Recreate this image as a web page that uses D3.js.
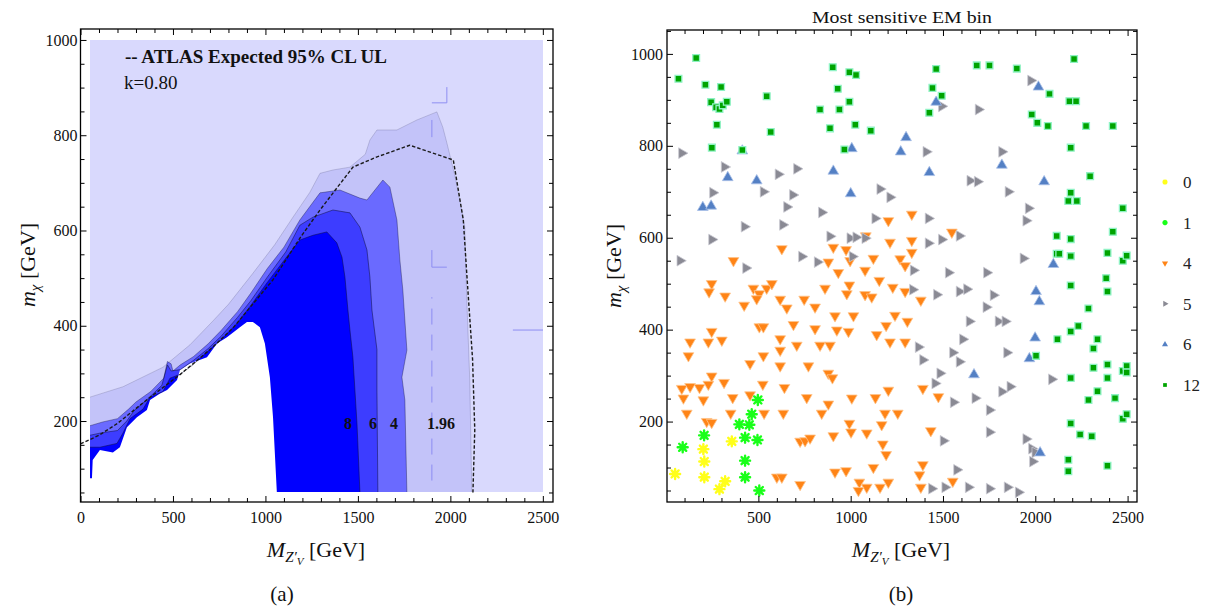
<!DOCTYPE html>
<html>
<head>
<meta charset="utf-8">
<script src="https://cdn.jsdelivr.net/npm/d3@7"></script>
<style>
  body { margin: 0; background: #fff; }
  text { font-family: "Liberation Serif", "DejaVu Serif", serif; }
</style>
</head>
<body>
<svg width="1210" height="608"></svg>
<script>
const svg = d3.select('svg');

// ---------- panel (a): contour regions, [M_Z' GeV, m_chi GeV] ----------
const gridX = [50, 2500];
const gridY = [50, 1000];

// outer edge of each significance region, from the left edge down to the bottom edge
const contour196 = [[50,250],[230,272],[446,313],[592,360],[716,410],[800,445],[932,510],[1050,570],[1149,628],
  [1240,680],[1295,720],[1365,727],[1457,733],[1540,760],[1565,790],[1603,811],[1711,811],[1819,832],[1927,849],
  [1959,817],[1981,784],[2024,716],[2051,664],[2078,607],[2089,454],[2105,286],[2116,50]];
const contour4 = [[50,190],[120,198],[200,205],[260,225],[300,240],[380,262],[450,290],[470,325],[490,320],[500,305],
  [540,318],[610,335],[690,362],[760,390],[850,430],[920,468],[1010,520],[1100,565],[1186,622],[1295,679],[1403,685],
  [1511,668],[1549,664],[1635,706],[1673,691],[1711,622],[1727,538],[1743,475],[1765,349],[1738,292],[1754,244],[1765,50]];
const contour6 = [[50,170],[110,175],[200,180],[250,200],[290,222],[360,245],[440,275],[470,318],[490,305],[540,308],
  [610,327],[690,352],[760,378],[850,418],[920,452],[1010,502],[1110,555],[1186,611],[1257,628],[1365,643],[1457,637],
  [1511,607],[1549,559],[1565,502],[1576,433],[1603,350],[1603,265],[1608,50]];
const contour8 = [[50,145],[105,145],[197,153],[230,175],[268,205],[338,225],[376,250],[446,262],[484,290],[538,298],
  [608,318],[684,345],[754,368],[846,405],[916,440],[1008,490],[1116,545],[1186,580],[1257,590],[1332,597],[1386,574],
  [1414,544],[1430,502],[1446,433],[1457,391],[1473,334],[1495,195],[1511,50]];
// region without a result (white)
const noResult = [[50,35],[50,80],[62,80],[66,118],[105,139],[175,134],[213,145],[251,187],[305,208],[359,223],[376,244],
  [430,258],[468,265],[522,286],[538,307],[592,321],[684,334],[738,363],[792,376],[862,397],[900,408],[932,408],
  [970,397],[997,363],[1024,292],[1041,208],[1062,48],[1062,35]];
// ATLAS expected 95% CL upper limit
const atlasExpected = [[0,152],[100,170],[200,195],[360,245],[540,298],[700,350],[824,395],[920,440],[1040,496],
  [1190,586],[1295,643],[1473,733],[1600,754],[1780,779],[2016,748],[2070,622],[2090,502],[2120,330],[2132,181],[2122,50]];
// stray mesh strokes of the original rendering
const meshStrokes = [[[1981,868],[1981,901]],[[1900,868],[1981,868]],[[1900,796],[1900,832]],
  [[1900,523],[1900,559]],[[1900,523],[1981,523]],[[2338,391],[2510,391]]];
const meshDashed = [[1900,75],[1900,460]];

const regionColors = ['#c3c3f9', '#6a6aff', '#3d3dff', '#0000ff'];
const contourLabels = ['8', '6', '4', '1.96'];
const contourLabelX = [1446, 1581, 1695, 1949];
const contourLabelY = 195;

// ---------- panel (b): most sensitive EM bin ----------
const bins = ['0', '1', '4', '5', '6', '12'];
const bin0 = [[49,86],[202,140],[207,113],[207,79],[289,53],[320,70],[356,157]];
const bin1 = [[90,144],[206,170],[397,194],[451,193],[464,216],[497,247],[428,165],[495,160],[428,115],[428,79],[505,50]];
const bin4 = [[247,500],[233,482],[320,473],[423,453],[473,490],[505,478],[545,490],[573,500],[491,467],[618,466],
  [654,447],[748,466],[807,449],[861,490],[979,478],[993,497],[1078,476],[1114,471],[1155,507],[1228,492],[1295,483],
  [690,411],[807,402],[915,430],[1015,430],[925,399],[988,396],[1141,389],[1192,409],[1240,431],[1307,418],[505,406],
  [527,406],[618,380],[708,366],[834,366],[888,366],[1213,373],[1295,373],[247,396],[302,377],[130,373],[229,373],
  [121,343],[618,355],[455,326],[527,343],[618,321],[771,321],[879,305],[901,295],[247,299],[229,281],[181,274],
  [85,272],[130,276],[314,285],[94,251],[202,247],[361,252],[455,258],[524,281],[641,274],[762,252],[879,238],
  [1006,251],[1134,252],[1204,268],[112,218],[220,200],[247,198],[350,218],[531,218],[635,218],[843,218],[993,196],
  [1186,218],[1255,218],[906,169],[1002,177],[1087,175],[1168,193],[726,157],[753,158],[780,164],[1174,151],[1192,128],
  [600,79],[627,79],[726,63],[915,90],[975,93],[1047,68],[1087,57],[1123,100],[1159,57],[1204,68],[1042,50],
  [1204,637],[1331,651],[627,576],[365,550],[906,579],[975,574],[1082,604],[1213,590],[1331,594],[879,547],[997,550],
  [1123,555],[1268,554],[1331,568],[1295,539],[933,524],[1078,529],[1548,612],
  [1380,464],[1391,272],[1475,254],[1434,180],[1391,106],[1373,84],[1380,57],[1553,70]];
const bin5 = [[85,784],[316,754],[253,698],[424,624],[248,596],[76,550],[432,534],[527,700],[608,738],[708,750],
  [686,693],[654,667],[632,628],[843,655],[735,559],[820,547],[888,603],[997,599],[1029,601],[1078,599],[1009,559],
  [1159,706],[1213,688],[1132,642],[1976,942],[1493,886],[1692,879],[1409,787],[1819,787],[1647,724],[1687,722],
  [1854,700],[1963,664],[1950,637],[1421,642],[1421,588],[1493,596],[1589,604],[1340,529],[1530,524],[1737,524],
  [1935,555],[1336,487],[1466,476],[1589,483],[1629,488],[1773,475],[1734,449],[1643,418],[1800,418],[1837,418],
  [1607,379],[1367,362],[1553,350],[1846,350],[1391,334],[1589,330],[1484,305],[1457,283],[1819,265],[1864,276],
  [1557,242],[1674,251],[1752,225],[1752,177],[1502,158],[1950,162],[1981,141],[1999,133],[1986,113],[1575,95],
  [1439,54],[1511,57],[1638,57],[1752,54],[1849,57],[1909,46],[2089,292]];
const bin6 = [[334,731],[491,724],[199,666],[244,669],[906,745],[1000,696],[413,789],[1006,794],[1300,818],[1271,787],
  [2017,928],[1463,895],[1426,742],[1819,758],[2048,722],[2098,542],[2004,483],[2022,461],[1999,382],[1968,337],
  [1668,302],[2026,132]];
const bin12 = [[67,946],[163,991],[213,933],[298,928],[244,895],[271,884],[289,880],[307,888],[329,896],[275,846],
  [248,796],[413,791],[545,908],[567,830],[903,971],[993,960],[1029,954],[930,924],[834,879],[939,879],[993,896],
  [888,838],[1025,846],[1109,833],[966,792],[1463,967],[1683,975],[1752,975],[1900,968],[2210,989],[1443,926],
  [1493,909],[1426,872],[2077,913],[2185,897],[2221,897],[1981,868],[2011,850],[2068,843],[2275,843],[2420,843],
  [2192,796],[2297,734],[2192,698],[2179,680],[2225,680],[2474,664],[2420,613],[2116,604],[2192,597],[2116,565],
  [2130,565],[2192,560],[2391,567],[2474,550],[2495,561],[2384,512],[2192,496],[2391,483],[2288,446],[2120,379],
  [2192,396],[2233,408],[2337,379],[2315,359],[2004,343],[2315,317],[2391,324],[2474,310],[2495,321],[2495,307],
  [2192,295],[2391,295],[2337,266],[2288,247],[2432,251],[2474,206],[2495,216],[2192,196],[2243,172],[2306,168],
  [2179,117],[2179,92],[2391,104]];

// tick labels
const xTickLabelsA = [0, 500, 1000, 1500, 2000, 2500];
const yTickLabelsA = [200, 400, 600, 800, 1000];
const xTickLabelsB = [500, 1000, 1500, 2000, 2500];
const yTickLabelsB = [200, 400, 600, 800, 1000];

// ---------- scales ----------
const xA = d3.scaleLinear().domain([0, 2555]).range([80.5, 553]);
const yA = d3.scaleLinear().domain([30, 1023]).range([502, 29]);
const xB = d3.scaleLinear().domain([5, 2551]).range([667, 1137]);
const yB = d3.scaleLinear().domain([25, 1052]).range([502, 30]);

const FONT = '"Liberation Serif", "DejaVu Serif", serif';

// ---------- panel (a) ----------
const gA = svg.append('g');
// snap the data box to whole pixels so stacked fills leave no fringe
const boxL = Math.round(xA(gridX[0])), boxR = Math.round(xA(gridX[1]));
const boxT = Math.round(yA(gridY[1])), boxB = Math.round(yA(gridY[0]));
svg.append('defs').append('clipPath').attr('id', 'clipA')
  .append('rect')
  .attr('x', boxL).attr('y', boxT)
  .attr('width', boxR - boxL)
  .attr('height', boxB - boxT);

const plotA = gA.append('g').attr('clip-path', 'url(#clipA)');
const lineA = d3.line().x(d => xA(d[0])).y(d => yA(d[1]));

plotA.append('rect')
  .attr('x', boxL).attr('y', boxT)
  .attr('width', boxR - boxL)
  .attr('height', boxB - boxT)
  .attr('fill', '#d9d9fd');

const contours = [contour196, contour4, contour6, contour8];
contours.forEach((c, i) => {
  plotA.append('path')
    .attr('d', lineA([[gridX[0] - 10, gridY[0] - 10], [gridX[0] - 10, c[0][1]]].concat(c, [[c[c.length - 1][0], gridY[0] - 10]])) + 'Z')
    .attr('fill', regionColors[i]);
});
plotA.append('path').attr('d', lineA([[gridX[0] - 10, noResult[0][1]]].concat(noResult)) + 'Z').attr('fill', '#fff');

const strokeOp = [0.2, 0.45, 0.6, 0.6];
contours.forEach((c, i) => {
  plotA.append('path')
    .attr('d', lineA(c))
    .attr('fill', 'none')
    .attr('stroke', `rgba(10,10,50,${strokeOp[i]})`)
    .attr('stroke-width', 0.8);
});

meshStrokes.forEach(s => {
  plotA.append('path').attr('d', lineA(s)).attr('fill', 'none')
    .attr('stroke', '#8e8ef2').attr('stroke-width', 1);
});
plotA.append('path').attr('d', lineA(meshDashed)).attr('fill', 'none')
  .attr('stroke', '#8e8ef2').attr('stroke-width', 1).attr('stroke-dasharray', '16,10');

gA.append('path')
  .attr('d', lineA(atlasExpected))
  .attr('fill', 'none')
  .attr('stroke', '#1a1a1a')
  .attr('stroke-width', 1.4)
  .attr('stroke-dasharray', '3.5,2');

contourLabels.forEach((t, i) => {
  gA.append('text')
    .attr('x', xA(contourLabelX[i])).attr('y', yA(contourLabelY) + 5.5)
    .attr('text-anchor', 'middle')
    .attr('font-size', 16).attr('font-weight', 'bold')
    .attr('fill', '#111')
    .text(t);
});

gA.append('text').attr('x', 125).attr('y', 63)
  .attr('font-size', 19).attr('font-weight', 'bold').attr('fill', '#111')
  .text('-- ATLAS Expected 95% CL UL');
gA.append('text').attr('x', 124).attr('y', 89)
  .attr('font-size', 19).attr('fill', '#111')
  .text('k=0.80');

// ---------- frame with inward ticks ----------
function frame(g, x, y, xMinor, xMajor, yMinor, yMajor, padX, padY) {
  const [x0, x1] = x.range();
  const [y0, y1] = y.range();
  const style = sel => {
    sel.select('.domain').remove();
    sel.selectAll('line').attr('stroke', '#000').attr('stroke-width', 1);
    sel.selectAll('text').attr('font-family', FONT).attr('font-size', 16).attr('fill', '#111');
  };
  g.append('g').attr('transform', `translate(0,${y0})`)
    .call(d3.axisBottom(x).tickValues(xMinor).tickSize(-4).tickFormat('')).call(style);
  g.append('g').attr('transform', `translate(0,${y0})`)
    .call(d3.axisBottom(x).tickValues(xMajor).tickSize(-6).tickPadding(padX).tickFormat(d3.format('d'))).call(style);
  g.append('g').attr('transform', `translate(0,${y1})`)
    .call(d3.axisTop(x).tickValues(xMinor).tickSize(-4).tickFormat('')).call(style);
  g.append('g').attr('transform', `translate(0,${y1})`)
    .call(d3.axisTop(x).tickValues(xMajor).tickSize(-6).tickFormat('')).call(style);
  g.append('g').attr('transform', `translate(${x0},0)`)
    .call(d3.axisLeft(y).tickValues(yMinor).tickSize(-4).tickFormat('')).call(style);
  g.append('g').attr('transform', `translate(${x0},0)`)
    .call(d3.axisLeft(y).tickValues(yMajor).tickSize(-6).tickPadding(padY).tickFormat(d3.format('d'))).call(style);
  g.append('g').attr('transform', `translate(${x1},0)`)
    .call(d3.axisRight(y).tickValues(yMinor).tickSize(-4).tickFormat('')).call(style);
  g.append('g').attr('transform', `translate(${x1},0)`)
    .call(d3.axisRight(y).tickValues(yMajor).tickSize(-6).tickFormat('')).call(style);
  g.append('rect').attr('x', x0).attr('y', y1).attr('width', x1 - x0).attr('height', y0 - y1)
    .attr('fill', 'none').attr('stroke', '#000').attr('stroke-width', 1.3);
}

frame(gA, xA, yA,
  d3.range(0, 2501, 100).filter(v => v % 500), xTickLabelsA,
  d3.range(50, 1001, 50).filter(v => v % 200), yTickLabelsA, 10, 3);

function xLabel(g, cx) {
  const t = g.append('text').attr('x', cx).attr('y', 557).attr('text-anchor', 'middle')
    .attr('font-size', 22).attr('fill', '#111');
  t.append('tspan').attr('font-style', 'italic').text('M');
  t.append('tspan').attr('font-style', 'italic').attr('font-size', 15).attr('dy', 5).text('Z′');
  t.append('tspan').attr('font-style', 'italic').attr('font-size', 11).attr('dy', 3).text('V');
  t.append('tspan').attr('dy', -8).text(' [GeV]');
}
function yLabel(g, bx, cy) {
  const t = g.append('text').attr('transform', `translate(${bx},${cy}) rotate(-90)`)
    .attr('text-anchor', 'middle').attr('font-size', 22).attr('fill', '#111');
  t.append('tspan').attr('font-style', 'italic').text('m');
  t.append('tspan').attr('font-style', 'italic').attr('font-size', 15).attr('dy', 5).text('χ');
  t.append('tspan').attr('dy', -5).text(' [GeV]');
}

xLabel(gA, 316);
yLabel(gA, 35, 265);
gA.append('text').attr('x', 282).attr('y', 601).attr('text-anchor', 'middle')
  .attr('font-size', 21).attr('fill', '#111').text('(a)');

// ---------- panel (b) ----------
const gB = svg.append('g');

function asterisk(r) {
  const p = d3.path();
  for (let k = 0; k < 4; k++) {
    const a = k * Math.PI / 4;
    p.moveTo(-r * Math.cos(a), -r * Math.sin(a));
    p.lineTo(r * Math.cos(a), r * Math.sin(a));
  }
  return p.toString();
}

const markerStyle = {
  '0':  { kind: 'star', color: '#ffff1a', halo: '#ffffa8' },
  '1':  { kind: 'star', color: '#19ff19', halo: '#a8ffa8' },
  '4':  { kind: 'tri', rot: 180, color: '#ff8416', halo: '#ffc48c' },
  '5':  { kind: 'tri', rot: 90, color: '#8a8a94', halo: '#c9c9d2' },
  '6':  { kind: 'tri', rot: 0, color: '#5480c4', halo: '#a9c0e8' },
  '12': { kind: 'sq', color: '#00a400', halo: '#8ff2c4' }
};

function drawMarkers(g, pts, key, scale) {
  const m = markerStyle[key];
  const sel = g.selectAll(null).data(pts).enter().append('path')
    .attr('transform', d => `translate(${xB(d[0])},${yB(d[1])}) rotate(${m.rot || 0})`);
  if (m.kind === 'star') {
    sel.attr('d', asterisk(5 * scale)).attr('fill', 'none')
      .attr('stroke', m.color).attr('stroke-width', 2.4 * scale).attr('stroke-linecap', 'round');
  } else if (m.kind === 'tri') {
    sel.attr('d', d3.symbol(d3.symbolTriangle, 50 * scale * scale)()).attr('fill', m.color)
      .attr('stroke', m.halo).attr('stroke-width', 0.8);
  } else {
    sel.attr('d', d3.symbol(d3.symbolSquare, 46 * scale * scale)()).attr('fill', m.color)
      .attr('stroke', m.halo).attr('stroke-width', 1.3);
  }
  return sel;
}

const plotB = gB.append('g');
drawMarkers(plotB, bin4, '4', 1);
drawMarkers(plotB, bin5, '5', 1);
drawMarkers(plotB, bin6, '6', 1);
drawMarkers(plotB, bin12, '12', 1);
drawMarkers(plotB, bin1, '1', 1);
drawMarkers(plotB, bin0, '0', 1);

frame(gB, xB, yB,
  d3.range(100, 2501, 100).filter(v => v % 500), xTickLabelsB,
  d3.range(50, 1051, 50).filter(v => v % 200), yTickLabelsB, 10, 4);

xLabel(gB, 901);
yLabel(gB, 621, 266);
gB.append('text').attr('x', 901).attr('y', 601).attr('text-anchor', 'middle')
  .attr('font-size', 21).attr('fill', '#111').text('(b)');
gB.append('text').attr('x', 902).attr('y', 23).attr('text-anchor', 'middle')
  .attr('font-size', 17).attr('fill', '#111').attr('textLength', 180).attr('lengthAdjust', 'spacingAndGlyphs')
  .text('Most sensitive EM bin');

// legend
const legend = gB.append('g');
bins.forEach((b, i) => {
  const ly = 182 + i * 40.6;
  const m = markerStyle[b];
  const p = legend.append('path').attr('transform', `translate(1165,${ly}) rotate(${m.rot || 0})`);
  if (m.kind === 'star') {
    p.attr('d', asterisk(2.6)).attr('fill', 'none').attr('stroke', m.color).attr('stroke-width', 1.6);
  } else if (m.kind === 'tri') {
    p.attr('d', d3.symbol(d3.symbolTriangle, 16)()).attr('fill', m.color);
  } else {
    p.attr('d', d3.symbol(d3.symbolSquare, 14)()).attr('fill', m.color);
  }
  legend.append('text').attr('x', 1183).attr('y', ly + 6)
    .attr('font-size', 17).attr('fill', '#222').text(b);
});
</script>
</body>
</html>
